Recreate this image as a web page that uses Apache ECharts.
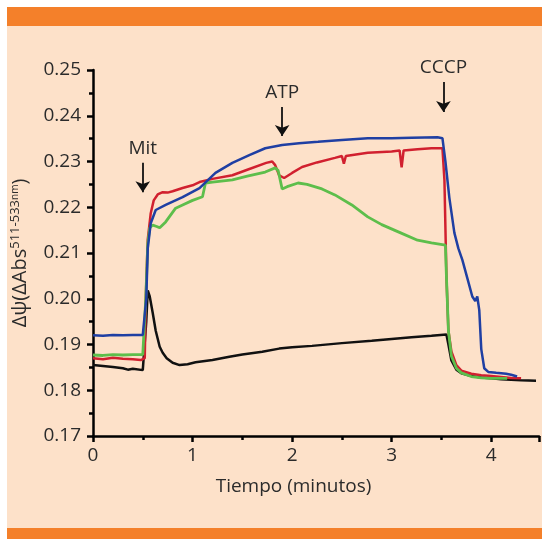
<!DOCTYPE html>
<html><head><meta charset="utf-8">
<script src="https://cdn.jsdelivr.net/npm/echarts@6/dist/echarts.min.js"></script>
<style>
html,body{margin:0;padding:0;background:#fff;width:542px;height:539px;overflow:hidden;}
#bg{position:absolute;left:7px;top:7px;width:535px;height:532px;background:#FDE1C9;}
#topband{position:absolute;left:7px;top:7px;width:535px;height:19px;background:#F4802A;}
#botband{position:absolute;left:7px;top:528px;width:535px;height:11px;background:#F4802A;}
#chart{position:absolute;left:0;top:0;width:542px;height:539px;}
</style></head>
<body>
<div id="bg"></div><div id="topband"></div><div id="botband"></div>
<div id="chart"></div>
<script>
// ---- data ----
const blackT = [0,0.1,0.2,0.3,0.35,0.4,0.5,0.52,0.535,0.55,0.57,0.6,0.63,0.67,0.7,0.74,0.8,0.87,0.95,1.03,1.2,1.37,1.5,1.7,1.87,2.0,2.2,2.5,2.8,3.0,3.2,3.4,3.55,3.57,3.6,3.65,3.7,3.8,3.9,4.0,4.1,4.2,4.3,4.45];
const blackV = [0.1855,0.1853,0.1851,0.1848,0.1845,0.1847,0.1844,0.1842,0.195,0.2018,0.2005,0.1969,0.193,0.1895,0.1882,0.187,0.186,0.1855,0.1857,0.1861,0.1866,0.1873,0.1878,0.1884,0.1891,0.1894,0.1897,0.1903,0.1908,0.1912,0.1916,0.1919,0.1922,0.190,0.1865,0.1845,0.1837,0.1831,0.1828,0.1826,0.1824,0.1823,0.1822,0.1821];

const redT = [0,0.1,0.2,0.3,0.4,0.48,0.5,0.52,0.53,0.55,0.58,0.61,0.65,0.7,0.75,0.8,0.9,1.0,1.07,1.2,1.4,1.55,1.74,1.8,1.83,1.87,1.92,2.0,2.1,2.25,2.43,2.5,2.52,2.54,2.76,3.0,3.08,3.1,3.12,3.26,3.4,3.51,3.53,3.55,3.57,3.6,3.65,3.7,3.8,3.9,4.0,4.1,4.2,4.3];
const redV = [0.1870,0.1868,0.1871,0.1869,0.1868,0.1866,0.1862,0.1870,0.200,0.213,0.2187,0.2215,0.2228,0.2233,0.2232,0.2235,0.2242,0.2248,0.2255,0.2262,0.2270,0.2282,0.2297,0.2300,0.2292,0.2270,0.2264,0.2275,0.2288,0.2298,0.2308,0.2312,0.2295,0.2312,0.2319,0.2322,0.2324,0.2287,0.2324,0.2327,0.2329,0.2329,0.226,0.205,0.193,0.1885,0.1855,0.1843,0.1836,0.1833,0.1831,0.1829,0.1827,0.1826];

const greenT = [0,0.1,0.2,0.3,0.4,0.5,0.52,0.53,0.55,0.57,0.6,0.64,0.67,0.73,0.83,0.9,1.0,1.1,1.12,1.13,1.2,1.4,1.55,1.73,1.83,1.86,1.9,1.95,2.06,2.15,2.3,2.43,2.6,2.76,2.9,3.09,3.26,3.4,3.54,3.55,3.57,3.6,3.65,3.7,3.8,3.9,4.0,4.16];
const greenV = [0.1877,0.1876,0.1878,0.1877,0.1878,0.1878,0.1880,0.200,0.212,0.2155,0.2161,0.2158,0.2155,0.2168,0.2198,0.2205,0.2215,0.2223,0.2225,0.2253,0.2255,0.2260,0.2268,0.2277,0.2286,0.2280,0.2240,0.2245,0.2253,0.2250,0.2240,0.2227,0.2205,0.2179,0.2162,0.2144,0.2128,0.2122,0.2117,0.205,0.193,0.1875,0.1848,0.1838,0.1830,0.1827,0.1826,0.1826];

const blueT = [0,0.1,0.2,0.3,0.4,0.5,0.52,0.535,0.55,0.58,0.63,0.73,0.9,1.07,1.23,1.4,1.57,1.73,1.9,2.07,2.26,2.5,2.76,3.0,3.2,3.46,3.51,3.54,3.58,3.63,3.67,3.71,3.76,3.81,3.84,3.86,3.88,3.9,3.93,3.97,4.05,4.15,4.2,4.26];
const blueV = [0.1920,0.1919,0.1921,0.1920,0.1921,0.1921,0.1925,0.200,0.211,0.2165,0.2194,0.2205,0.2222,0.2242,0.2275,0.2297,0.2314,0.2329,0.2336,0.2340,0.2343,0.2347,0.2351,0.2351,0.2352,0.2353,0.2351,0.2300,0.2220,0.2144,0.2110,0.2085,0.2045,0.2005,0.1995,0.2005,0.1975,0.1890,0.1848,0.1840,0.1838,0.1836,0.1834,0.1830];

// annotations: [label, time, arrow top value, arrow tip value]
const arrowLabels = ['Mit','ATP','CCCP'];
const arrowT = [0.5, 1.9, 3.52];
const arrowTop = [0.2297, 0.2419, 0.2474];
const arrowTip = [0.2233, 0.2356, 0.2408];

const xTicks = [0,1,2,3,4];
const yTicks = [0.17,0.18,0.19,0.20,0.21,0.22,0.23,0.24,0.25];

function pairs(t,v){return t.map((x,i)=>[x,v[i]]);}

const FONT = 'Open Sans';
const TXT = '#2b2b2b';

const chart = echarts.init(document.getElementById('chart'), null, {renderer:'canvas'});
const mk = arrowLabels.map((name,i)=>[
  {name:name, coord:[arrowT[i],arrowTop[i]]},
  {coord:[arrowT[i],arrowTip[i]]}
]);
chart.setOption({
  animation:false,
  backgroundColor:'transparent',
  grid:{left:93, right:0, top:70, bottom:103, containLabel:false},
  xAxis:{
    type:'value', min:0, max:4.48, interval:1,
    name:'Tiempo (minutos)', nameLocation:'middle', nameGap:41,
    nameTextStyle:{fontFamily:FONT, fontSize:19, color:TXT, padding:[0,45,0,0]},
    axisLine:{show:true, onZero:false, lineStyle:{color:'#000', width:2.5}},
    axisTick:{show:true, inside:false, length:6, lineStyle:{color:'#000', width:2.5}},
    minorTick:{show:true, splitNumber:2, length:4, lineStyle:{color:'#000', width:2.5}},
    splitLine:{show:false},
    axisLabel:{fontFamily:FONT, fontSize:19, color:TXT, margin:10,
      formatter:v=> xTicks.indexOf(v)>=0 ? String(v) : ''}
  },
  yAxis:{
    type:'value', min:0.17, max:0.25, interval:0.01,
    name:'{a|Δψ(ΔAbs}{s|511-533}{n|nm}{a|)}', nameLocation:'middle', nameGap:62, nameRotate:90,
    nameTextStyle:{fontFamily:FONT, color:TXT,
      rich:{a:{fontFamily:FONT, fontSize:20, color:TXT},
            s:{fontFamily:FONT, fontSize:13, color:TXT, padding:[0,0,9,0]},
            n:{fontFamily:FONT, fontSize:10, color:TXT, padding:[0,0,9,0]}}},
    axisLine:{show:true, onZero:false, lineStyle:{color:'#000', width:2.5}},
    axisTick:{show:true, inside:false, length:6, lineStyle:{color:'#000', width:2.5}},
    minorTick:{show:true, splitNumber:2, length:4, lineStyle:{color:'#000', width:2.5}},
    splitLine:{show:false},
    axisLabel:{fontFamily:FONT, fontSize:19, color:TXT, margin:12,
      formatter:v=>{const r=Math.round(v*100)/100; return yTicks.some(t=>Math.abs(t-r)<1e-9)? r.toFixed(2):'';}}
  },
  series:[
    {type:'line', data:pairs(blackT,blackV), showSymbol:false, lineStyle:{color:'#111', width:2.5}, z:2,
     markLine:{silent:true, symbol:['none','arrow'], symbolSize:11, precision:4,
       lineStyle:{color:'#111', width:1.8, type:'solid'},
       label:{show:true, position:'start', formatter:'{b}', fontFamily:FONT, fontSize:19, color:TXT, distance:5},
       data:mk}},
    {type:'line', data:pairs(redT,redV), showSymbol:false, lineStyle:{color:'#D1202F', width:2.5}, z:3},
    {type:'line', data:pairs(greenT,greenV), showSymbol:false, lineStyle:{color:'#5DBE4B', width:2.8}, z:4},
    {type:'line', data:pairs(blueT,blueV), showSymbol:false, lineStyle:{color:'#1F3FA3', width:2.5}, z:5}
  ]
});
</script>
</body></html>
